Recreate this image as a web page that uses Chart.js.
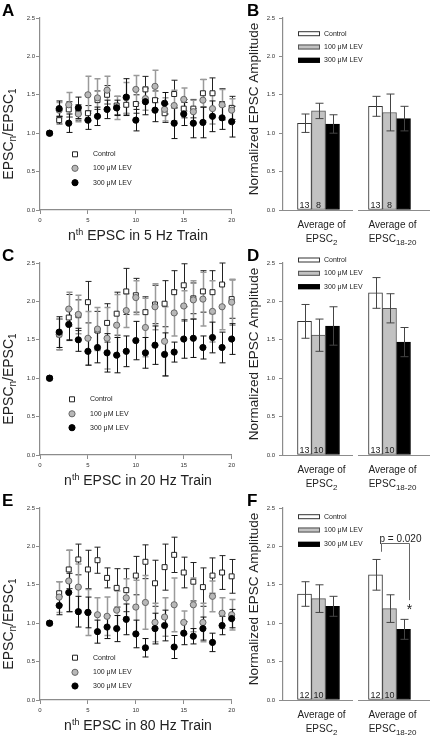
<!DOCTYPE html>
<html>
<head>
<meta charset="utf-8">
<script src="https://cdn.jsdelivr.net/npm/chart.js@4.4.0/dist/chart.umd.min.js"></script>
<style>
  body { margin: 0; background: #fff; }
  #fig { position: relative; width: 431px; height: 735px; overflow: hidden; }
  canvas { position: absolute; }
</style>
</head>
<body>
<div id="fig">
  <canvas id="chartA" width="238" height="245" style="left:0;top:0"></canvas>
  <canvas id="chartB" width="211" height="250" style="left:220px;top:0"></canvas>
  <canvas id="chartC" width="238" height="245" style="left:0;top:245px"></canvas>
  <canvas id="chartD" width="211" height="250" style="left:220px;top:245px"></canvas>
  <canvas id="chartE" width="238" height="245" style="left:0;top:490px"></canvas>
  <canvas id="chartF" width="211" height="245" style="left:220px;top:490px"></canvas>
</div>
<script>
// ---- data ----
const pulseNumber = [1, 2, 3, 4, 5, 6, 7, 8, 9, 10, 11, 12, 13, 14, 15, 16, 17, 18, 19, 20];
const seriesNames = ['Control', '100 μM LEV', '300 μM LEV'];

// 5 Hz train (panel A)
const ctrl5Hz     = [1.00, 1.17, 1.31, 1.27, 1.26, 1.43, 1.50, 1.36, 1.37, 1.38, 1.57, 1.43, 1.26, 1.51, 1.32, 1.32, 1.52, 1.52, 1.38, 1.33];
const ctrl5HzErr  = [0, 0.05, 0.10, 0.10, 0.10, 0.12, 0.12, 0.12, 0.12, 0.12, 0.17, 0.12, 0.12, 0.18, 0.12, 0.12, 0.18, 0.20, 0.20, 0.15];
const lev100_5Hz  = [1.00, 1.30, 1.37, 1.25, 1.50, 1.46, 1.56, 1.33, 1.46, 1.57, 1.45, 1.61, 1.31, 1.36, 1.44, 1.28, 1.43, 1.32, 1.37, 1.30];
const lev100_5HzErr = [0, 0.10, 0.16, 0.10, 0.24, 0.25, 0.18, 0.15, 0.20, 0.18, 0.15, 0.21, 0.15, 0.20, 0.15, 0.15, 0.27, 0.20, 0.20, 0.15];
const lev300_5Hz  = [1.00, 1.32, 1.13, 1.33, 1.17, 1.22, 1.31, 1.33, 1.47, 1.17, 1.41, 1.30, 1.39, 1.13, 1.25, 1.13, 1.14, 1.22, 1.20, 1.15];
const lev300_5HzErr = [0, 0.10, 0.12, 0.14, 0.12, 0.12, 0.12, 0.10, 0.24, 0.14, 0.17, 0.15, 0.14, 0.20, 0.15, 0.19, 0.20, 0.20, 0.15, 0.20];

// 20 Hz train (panel C)
const ctrl20Hz     = [1.00, 1.57, 1.79, 1.82, 1.99, 1.62, 1.72, 1.84, 2.13, 2.08, 1.86, 1.96, 1.97, 2.12, 2.21, 2.04, 2.13, 2.12, 2.22, 2.03];
const ctrl20HzErr  = [0, 0.20, 0.30, 0.20, 0.27, 0.25, 0.25, 0.28, 0.30, 0.22, 0.20, 0.25, 0.30, 0.28, 0.28, 0.20, 0.27, 0.28, 0.28, 0.25];
const lev100_20Hz  = [1.00, 1.57, 1.90, 1.83, 1.52, 1.64, 1.52, 1.69, 1.88, 2.05, 1.66, 1.93, 1.48, 1.85, 1.94, 2.02, 2.03, 1.87, 1.93, 1.99];
const lev100_20HzErr = [0, 0.20, 0.22, 0.25, 0.35, 0.28, 0.40, 0.40, 0.22, 0.22, 0.38, 0.30, 0.45, 0.30, 0.20, 0.25, 0.35, 0.40, 0.30, 0.30];
const lev300_20Hz  = [1.00, 1.60, 1.70, 1.50, 1.35, 1.40, 1.33, 1.30, 1.35, 1.49, 1.33, 1.43, 1.31, 1.34, 1.51, 1.52, 1.40, 1.53, 1.40, 1.51];
const lev300_20HzErr = [0, 0.20, 0.20, 0.15, 0.18, 0.20, 0.25, 0.23, 0.20, 0.25, 0.20, 0.25, 0.28, 0.13, 0.25, 0.25, 0.15, 0.20, 0.20, 0.20];

// 80 Hz train (panel E)
const ctrl80Hz     = [1.00, 1.39, 1.70, 1.83, 1.70, 1.82, 1.59, 1.46, 1.43, 1.62, 1.80, 1.52, 1.73, 1.89, 1.66, 1.54, 1.47, 1.62, 1.66, 1.61];
const ctrl80HzErr  = [0, 0.15, 0.25, 0.20, 0.25, 0.17, 0.13, 0.25, 0.28, 0.25, 0.22, 0.30, 0.30, 0.23, 0.20, 0.25, 0.25, 0.23, 0.22, 0.22];
const lev100_80Hz  = [1.00, 1.34, 1.55, 1.47, 1.14, 1.11, 1.09, 1.17, 1.33, 1.21, 1.27, 1.01, 1.08, 1.24, 1.01, 1.24, 1.01, 1.35, 1.13, 1.11];
const lev100_80HzErr = [0, 0.20, 0.40, 0.30, 0.30, 0.22, 0.25, 0.25, 0.25, 0.35, 0.35, 0.25, 0.25, 0.35, 0.15, 0.35, 0.25, 0.20, 0.20, 0.20];
const lev300_80Hz  = [1.00, 1.23, 1.40, 1.15, 1.14, 0.89, 0.95, 0.93, 1.05, 0.86, 0.68, 0.93, 0.97, 0.69, 0.87, 0.83, 0.93, 0.75, 0.97, 1.06];
const lev300_80HzErr = [0, 0.12, 0.25, 0.20, 0.20, 0.15, 0.15, 0.17, 0.20, 0.18, 0.12, 0.20, 0.20, 0.15, 0.15, 0.10, 0.15, 0.12, 0.12, 0.12];

// bar panels: groups = average of EPSC2, average of EPSC18-20
const barGroups = ['EPSC2', 'EPSC18-20'];
const barGroupSub = ['2', '18-20'];

const barCtrl5Hz = [1.13, 1.35],   barCtrl5HzErr = [0.12, 0.13];
const barL100_5Hz = [1.29, 1.27],  barL100_5HzErr = [0.10, 0.24];
const barL300_5Hz = [1.12, 1.19],  barL300_5HzErr = [0.12, 0.16];
const barN5Hz = ['13', '8'];

const barCtrl20Hz = [1.74, 2.11],  barCtrl20HzErr = [0.22, 0.20];
const barL100_20Hz = [1.56, 1.91], barL100_20HzErr = [0.21, 0.19];
const barL300_20Hz = [1.68, 1.47], barL300_20HzErr = [0.25, 0.19];
const barN20Hz = ['13', '10'];

const barCtrl80Hz = [1.38, 1.63],  barCtrl80HzErr = [0.16, 0.20];
const barL100_80Hz = [1.32, 1.19], barL100_80HzErr = [0.18, 0.18];
const barL300_80Hz = [1.22, 0.92], barL300_80HzErr = [0.13, 0.13];
const barN80Hz = ['12', '10'];

// significance bracket in F (values on y scale)
const sigText = 'p = 0.020';
const sigTop = 2.04, sigLeftEnd = 1.93, sigRightEnd = 1.30;

// ---- drawing ----
const FONT = '"Liberation Sans", Arial, sans-serif';
const AXIS = '#8c8c8c';
const INK = '#222';
const GRAY_FILL = '#b8b8b8';

Chart.defaults.font.family = FONT;
Chart.defaults.color = '#333';

// draw a run of text pieces [text, size, dy] as one line
function rich(ctx, parts, x, y, align) {
  let w = 0;
  parts.forEach(p => { ctx.font = p[1] + 'px ' + FONT; w += ctx.measureText(p[0]).width; });
  let cx = align === 'center' ? x - w / 2 : x;
  ctx.textAlign = 'left';
  ctx.textBaseline = 'alphabetic';
  parts.forEach(p => {
    ctx.font = p[1] + 'px ' + FONT;
    ctx.fillText(p[0], cx, y + (p[2] || 0));
    cx += ctx.measureText(p[0]).width;
  });
}

function drawErrors(chart, capHalf) {
  const ctx = chart.ctx, y = chart.scales.y;
  chart.data.datasets.forEach((ds, i) => {
    if (!ds.errors) return;
    const meta = chart.getDatasetMeta(i);
    ctx.save();
    ctx.strokeStyle = ds.errColor;
    ctx.lineWidth = ds.errWidth;
    meta.data.forEach((el, j) => {
      const e = ds.errors[j];
      if (!e) return;
      const d = ds.data[j];
      const v = typeof d === 'object' ? d.y : d;
      const t = y.getPixelForValue(v + e), b = y.getPixelForValue(v - e);
      const px = Math.round(el.x) + 0.5;
      ctx.beginPath();
      ctx.moveTo(px, t); ctx.lineTo(px, b);
      ctx.moveTo(px - capHalf, t); ctx.lineTo(px + capHalf, t);
      ctx.moveTo(px - capHalf, b); ctx.lineTo(px + capHalf, b);
      ctx.stroke();
    });
    ctx.restore();
  });
}

function panelLetter(ctx, letter, x, y) {
  ctx.save();
  ctx.fillStyle = '#000';
  ctx.font = 'bold 17px ' + FONT;
  ctx.textAlign = 'left';
  ctx.textBaseline = 'alphabetic';
  ctx.fillText(letter, x, y);
  ctx.restore();
}

function yScaleOpts(width, pad) {
  return {
    min: 0, max: 2.5,
    afterFit: s => { s.width = width; },
    ticks: { stepSize: 0.5, font: { size: 6 }, padding: pad, color: '#333', callback: v => v.toFixed(1) },
    grid: { drawOnChartArea: false, tickLength: 4, color: AXIS },
    border: { color: AXIS, width: 1.2 }
  };
}

function scatterChart(id, ctrl, ctrlErr, l100, l100Err, l300, l300Err, letter, hz, legendRows, symX, textX) {
  const pts = arr => pulseNumber.map((n, i) => ({ x: n, y: arr[i] }));
  return new Chart(document.getElementById(id), {
    type: 'scatter',
    data: {
      datasets: [
        { label: seriesNames[0], data: pts(ctrl), errors: ctrlErr, errColor: '#222', errWidth: 1, order: 2, clip: false,
          pointStyle: 'rect', pointRadius: 3.5, pointBackgroundColor: '#fff', pointBorderColor: '#222', pointBorderWidth: 1 },
        { label: seriesNames[1], data: pts(l100), errors: l100Err, errColor: '#9a9a9a', errWidth: 1.5, order: 1, clip: false,
          pointRadius: 3.1, pointBackgroundColor: GRAY_FILL, pointBorderColor: '#666', pointBorderWidth: 1 },
        { label: seriesNames[2], data: pts(l300), errors: l300Err, errColor: '#111', errWidth: 1, order: 0, clip: false,
          pointRadius: 3.1, pointBackgroundColor: '#000', pointBorderColor: '#000', pointBorderWidth: 1 }
      ]
    },
    options: {
      responsive: false, animation: false, devicePixelRatio: 1,
      layout: { padding: { top: 18, right: 5, left: 0, bottom: 0 } },
      plugins: { legend: { display: false }, tooltip: { enabled: false } },
      scales: {
        x: {
          type: 'linear', min: 0, max: 20,
          afterFit: s => { s.height = 35; },
          ticks: { stepSize: 5, font: { size: 6 }, padding: 3, color: '#333', maxRotation: 0 },
          grid: { drawOnChartArea: false, tickLength: 4, color: AXIS },
          border: { color: AXIS, width: 1.2 }
        },
        y: yScaleOpts(40, 1)
      }
    },
    plugins: [{
      id: 'scatterText',
      beforeDatasetsDraw(chart) { drawErrors(chart, 3); },
      afterDraw(chart) {
        const ctx = chart.ctx;
        ctx.save();
        ctx.fillStyle = INK;
        panelLetter(ctx, letter, 2, 16);
        rich(ctx, [['n', 14], ['th', 9, -5], [' EPSC in ' + hz + ' Hz Train', 14]], 138, 240, 'center');
        ctx.save();
        ctx.translate(13, 134);
        ctx.rotate(-Math.PI / 2);
        rich(ctx, [['EPSC', 14], ['n', 10, 3], ['/EPSC', 14], ['1', 10, 3]], 0, 0, 'center');
        ctx.restore();
        // legend
        legendRows.forEach((ry, k) => {
          ctx.beginPath();
          if (k === 0) {
            ctx.fillStyle = '#fff'; ctx.strokeStyle = '#222'; ctx.lineWidth = 1;
            ctx.rect(symX - 2.5, ry - 2.5, 5, 5);
          } else {
            ctx.fillStyle = k === 1 ? GRAY_FILL : '#000';
            ctx.strokeStyle = k === 1 ? '#666' : '#000'; ctx.lineWidth = 1;
            ctx.arc(symX, ry, 3.1, 0, Math.PI * 2);
          }
          ctx.fill(); ctx.stroke();
          ctx.fillStyle = INK;
          ctx.font = '7px ' + FONT;
          ctx.textAlign = 'left'; ctx.textBaseline = 'middle';
          ctx.fillText(seriesNames[k], textX, ry);
        });
        ctx.restore();
      }
    }]
  });
}

function barChart(id, ctrl, ctrlErr, l100, l100Err, l300, l300Err, counts, letter, legendRows, sig) {
  return new Chart(document.getElementById(id), {
    type: 'bar',
    data: {
      labels: barGroups,
      datasets: [
        { label: seriesNames[0], data: ctrl, errors: ctrlErr, backgroundColor: '#fff', borderColor: '#333' },
        { label: seriesNames[1], data: l100, errors: l100Err, backgroundColor: '#c2c2c2', borderColor: '#555' },
        { label: seriesNames[2], data: l300, errors: l300Err, backgroundColor: '#000', borderColor: '#000' }
      ].map(d => Object.assign(d, { barThickness: 14, borderWidth: 1, borderSkipped: false, errColor: '#444', errWidth: 1 }))
    },
    options: {
      responsive: false, animation: false, devicePixelRatio: 1,
      layout: { padding: { top: 18, right: 6, left: 0, bottom: 0 } },
      plugins: { legend: { display: false }, tooltip: { enabled: false } },
      scales: {
        x: {
          type: 'category',
          afterFit: s => { s.height = s.chart.height - 210; },
          ticks: { display: false },
          grid: { display: false },
          border: { display: false }
        },
        y: yScaleOpts(63, 4)
      }
    },
    plugins: [{
      id: 'barText',
      afterDatasetsDraw(chart) { drawErrors(chart, 4); },
      afterDraw(chart) {
        const ctx = chart.ctx, x = chart.scales.x, y = chart.scales.y, area = chart.chartArea;
        ctx.save();
        panelLetter(ctx, letter, 27, 16);
        ctx.fillStyle = INK;
        // broken x axis line
        const mid = (x.getPixelForValue(0) + x.getPixelForValue(1)) / 2;
        const yb = Math.round(y.getPixelForValue(0)) + 0.5;
        ctx.strokeStyle = AXIS; ctx.lineWidth = 1.2;
        ctx.beginPath();
        ctx.moveTo(area.left, yb); ctx.lineTo(mid - 1, yb);
        ctx.moveTo(mid + 4, yb); ctx.lineTo(chart.width - 1, yb);
        ctx.stroke();
        // y title
        ctx.save();
        ctx.translate(38, 109);
        ctx.rotate(-Math.PI / 2);
        rich(ctx, [['Normalized EPSC Amplitude', 13.5]], 0, 0, 'center');
        ctx.restore();
        // group labels
        barGroups.forEach((g, i) => {
          const gx = x.getPixelForValue(i) + 3;
          rich(ctx, [['Average of', 10]], gx, 228, 'center');
          rich(ctx, [['EPSC', 10], [barGroupSub[i], 8, 3]], gx, 242, 'center');
        });
        // n counts inside bars
        ctx.font = '9px ' + FONT;
        ctx.textAlign = 'center'; ctx.textBaseline = 'alphabetic';
        [0, 1].forEach(dsi => {
          chart.getDatasetMeta(dsi).data.forEach(el => {
            ctx.fillText(counts[dsi], el.x, yb - 2.5);
          });
        });
        // legend swatches
        legendRows.forEach((ry, k) => {
          const fills = ['#fff', '#c2c2c2', '#000'];
          const strokes = ['#333', '#555', '#000'];
          ctx.fillStyle = fills[k]; ctx.strokeStyle = strokes[k]; ctx.lineWidth = 1;
          ctx.fillRect(78, ry - 2.5, 22, 5);
          ctx.strokeRect(78.5, ry - 2, 21, 4);
          ctx.fillStyle = INK;
          ctx.font = '7px ' + FONT;
          ctx.textAlign = 'left'; ctx.textBaseline = 'middle';
          ctx.fillText(seriesNames[k], 104, ry);
        });
        // significance bracket
        if (sig) {
          const lx = Math.round(chart.getDatasetMeta(0).data[1].x + 5) + 0.5;
          const rx = Math.round(chart.getDatasetMeta(2).data[1].x + 5) + 0.5;
          const ty = Math.round(y.getPixelForValue(sigTop)) + 0.5;
          ctx.strokeStyle = '#666'; ctx.lineWidth = 1;
          ctx.beginPath();
          ctx.moveTo(lx, y.getPixelForValue(sigLeftEnd)); ctx.lineTo(lx, ty);
          ctx.lineTo(rx, ty); ctx.lineTo(rx, y.getPixelForValue(sigRightEnd));
          ctx.stroke();
          ctx.fillStyle = INK;
          rich(ctx, [[sigText, 10]], lx - 2, ty - 2, 'left');
          ctx.font = '14px ' + FONT;
          ctx.textAlign = 'center'; ctx.textBaseline = 'alphabetic';
          ctx.fillText('*', rx, y.getPixelForValue(sigRightEnd) + 14);
        }
        ctx.restore();
      }
    }]
  });
}

scatterChart('chartA', ctrl5Hz, ctrl5HzErr, lev100_5Hz, lev100_5HzErr, lev300_5Hz, lev300_5HzErr, 'A', 5, [154.3, 168.3, 182.7], 75, 93);
scatterChart('chartC', ctrl20Hz, ctrl20HzErr, lev100_20Hz, lev100_20HzErr, lev300_20Hz, lev300_20HzErr, 'C', 20, [154.3, 168.8, 182.7], 72, 90);
scatterChart('chartE', ctrl80Hz, ctrl80HzErr, lev100_80Hz, lev100_80HzErr, lev300_80Hz, lev300_80HzErr, 'E', 80, [167.7, 182.3, 196], 75, 93);

barChart('chartB', barCtrl5Hz, barCtrl5HzErr, barL100_5Hz, barL100_5HzErr, barL300_5Hz, barL300_5HzErr, barN5Hz, 'B', [33.7, 47, 60.3], false);
barChart('chartD', barCtrl20Hz, barCtrl20HzErr, barL100_20Hz, barL100_20HzErr, barL300_20Hz, barL300_20HzErr, barN20Hz, 'D', [15, 28.3, 41.7], false);
barChart('chartF', barCtrl80Hz, barCtrl80HzErr, barL100_80Hz, barL100_80HzErr, barL300_80Hz, barL300_80HzErr, barN80Hz, 'F', [26.7, 40, 54.3], true);
</script>
</body>
</html>
